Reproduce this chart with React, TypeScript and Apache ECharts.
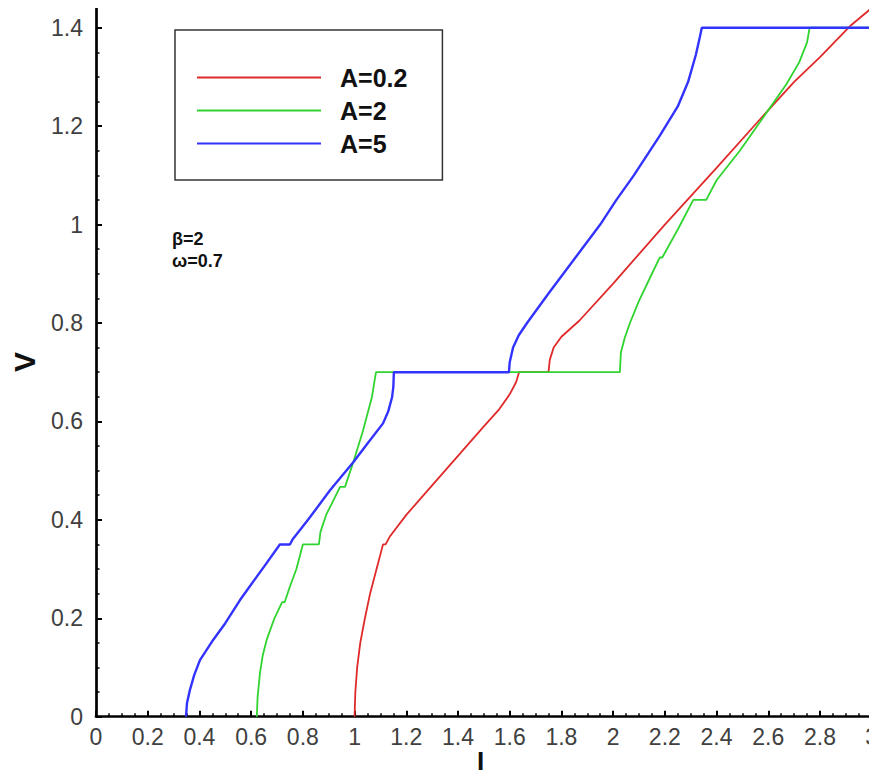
import React, { useEffect, useRef } from "react";
import * as echarts from "echarts";

// A=0.2 : [I, V]
const seriesA02: [number, number][] = [
  [1.0, 0], [1.003, 0.05], [1.01, 0.1], [1.022, 0.15], [1.04, 0.2], [1.06, 0.25],
  [1.085, 0.3], [1.105, 0.34], [1.11, 0.35], [1.12, 0.35], [1.135, 0.365],
  [1.2, 0.41], [1.3, 0.47], [1.4, 0.53], [1.5, 0.59], [1.56, 0.625], [1.6, 0.655],
  [1.625, 0.68], [1.636, 0.7], [1.75, 0.7], [1.755, 0.725], [1.77, 0.75],
  [1.8, 0.772], [1.87, 0.805], [2.0, 0.88], [2.2, 1.0], [2.4, 1.115], [2.57, 1.215],
  [2.7, 1.29], [2.8, 1.34], [2.92, 1.405], [3.0, 1.44],
];
// A=2
const seriesA2: [number, number][] = [
  [0.622, 0], [0.625, 0.04], [0.634, 0.088], [0.645, 0.125], [0.66, 0.156],
  [0.69, 0.2], [0.72, 0.233], [0.73, 0.233], [0.747, 0.26], [0.775, 0.3],
  [0.8, 0.35], [0.862, 0.35], [0.868, 0.375], [0.89, 0.41], [0.944, 0.467],
  [0.963, 0.467], [0.995, 0.517], [1.032, 0.58], [1.067, 0.649], [1.078, 0.685],
  [1.083, 0.7], [2.026, 0.7], [2.03, 0.74], [2.045, 0.77], [2.065, 0.8],
  [2.1, 0.845], [2.15, 0.9], [2.18, 0.933], [2.19, 0.933], [2.25, 0.99],
  [2.31, 1.05], [2.36, 1.05], [2.4, 1.09], [2.49, 1.15], [2.57, 1.21],
  [2.67, 1.285], [2.72, 1.33], [2.75, 1.37], [2.76, 1.4], [3.0, 1.4],
];
// A=5
const seriesA5: [number, number][] = [
  [0.348, 0], [0.352, 0.028], [0.363, 0.054], [0.38, 0.085], [0.402, 0.115],
  [0.453, 0.156], [0.5, 0.19], [0.557, 0.237], [0.584, 0.257], [0.65, 0.305],
  [0.711, 0.35], [0.75, 0.35], [0.76, 0.36], [0.82, 0.4], [0.905, 0.46],
  [0.995, 0.517], [1.05, 0.555], [1.11, 0.596], [1.13, 0.62], [1.145, 0.649],
  [1.15, 0.67], [1.152, 0.7], [1.597, 0.7], [1.6, 0.72], [1.613, 0.75],
  [1.635, 0.775], [1.667, 0.8], [1.75, 0.86], [1.85, 0.93], [1.95, 1.0],
  [2.01, 1.048], [2.08, 1.1], [2.18, 1.18], [2.25, 1.24], [2.29, 1.29],
  [2.32, 1.345], [2.335, 1.38], [2.343, 1.4], [3.0, 1.4],
];

const seriesNames = ["A=0.2", "A=2", "A=5"];
const seriesColors = ["#e02a2a", "#2fd42f", "#3333ff"];
const yMajorTicks = [0, 0.2, 0.4, 0.6, 0.8, 1, 1.2, 1.4];
const yMinorTicks = [
  0.05, 0.1, 0.15, 0.25, 0.3, 0.35, 0.45, 0.5, 0.55, 0.65, 0.7, 0.75,
  0.85, 0.9, 0.95, 1.05, 1.1, 1.15, 1.25, 1.3, 1.35,
];
const annotation = ["β=2", "ω=0.7"];
const xAxisName = "I";
const yAxisName = "V";

const FONT = "Liberation Sans, Arial, Helvetica, sans-serif";

export default function App() {
  const ref = useRef<HTMLDivElement>(null);
  useEffect(() => {
    if (!ref.current) return;
    const chart = echarts.init(ref.current, null, { renderer: "svg" });
    const labelStyle = { color: "#404040", fontSize: 23, fontFamily: FONT };
    chart.setOption({
      animation: false,
      backgroundColor: "#ffffff",
      grid: { left: 96, right: 5.3, top: 8, bottom: 62.3, containLabel: false, outerBoundsMode: "none" },
      legend: {
        orient: "vertical",
        left: 175,
        top: 30,
        data: seriesNames,
        borderColor: "#333333",
        borderWidth: 1.5,
        padding: [35, 35, 24, 22],
        itemGap: 8,
        itemWidth: 124,
        itemHeight: 14,
        icon: "path://M0,6 L124,6 L124,8 L0,8 Z",
        textStyle: { fontSize: 25, fontWeight: "bold", color: "#111", fontFamily: FONT, lineHeight: 25, padding: [0, 0, 0, 14] },
      },
      graphic: [
        {
          type: "text",
          left: 172,
          top: 228,
          style: {
            text: annotation.join("\n"),
            fontSize: 18,
            fontWeight: "bold",
            fontFamily: FONT,
            fill: "#111",
            lineHeight: 22,
          },
        },
        {
          type: "text",
          left: 477,
          top: 748,
          style: {
            text: xAxisName,
            fontSize: 26,
            fontWeight: "bold",
            fontFamily: FONT,
            fill: "#111",
          },
        },
        {
          type: "text",
          x: 24,
          y: 362,
          rotation: Math.PI / 2,
          style: {
            text: yAxisName,
            fontSize: 30,
            fontWeight: "bold",
            fontFamily: FONT,
            fill: "#111",
            align: "center",
            verticalAlign: "middle",
          },
        },
      ],
      xAxis: {
        type: "value",
        min: 0,
        max: 3,
        interval: 0.2,
        axisLine: { show: true, onZero: false, lineStyle: { color: "#000", width: 2.7 } },
        axisTick: { show: true, inside: true, length: 6, lineStyle: { color: "#000", width: 2 } },
        minorTick: { show: true, splitNumber: 4, length: 3.5, lineStyle: { color: "#000", width: 1.5 } },
        axisLabel: { ...labelStyle, margin: 9, formatter: (v: number) => String(+v.toFixed(2)) },
        splitLine: { show: false },
      },
      yAxis: [
        {
          type: "value",
          min: 0,
          max: 1.44,
          axisLine: { show: true, onZero: false, lineStyle: { color: "#000", width: 2.7 } },
          axisTick: { show: true, inside: true, length: 6, customValues: yMajorTicks, lineStyle: { color: "#000", width: 2 } },
          axisLabel: { ...labelStyle, margin: 13, customValues: yMajorTicks, formatter: (v: number) => String(+v.toFixed(2)) },
          splitLine: { show: false },
        },
        {
          type: "value",
          min: 0,
          max: 1.44,
          position: "left",
          axisLine: { show: false },
          axisTick: { show: true, inside: true, length: 3.5, customValues: yMinorTicks, lineStyle: { color: "#000", width: 1.5 } },
          axisLabel: { show: false },
          splitLine: { show: false },
        },
      ],
      series: [seriesA02, seriesA2, seriesA5].map((d, i) => ({
        name: seriesNames[i],
        type: "line",
        data: d,
        symbol: "none",
        showSymbol: false,
        clip: false,
        color: seriesColors[i],
        lineStyle: { color: seriesColors[i], width: i === 2 ? 2.4 : 1.8 },
        z: 2 + i,
      })),
    });
    return () => chart.dispose();
  }, []);
  return <div ref={ref} style={{ width: 877, height: 779, margin: -8 }} />;
}
